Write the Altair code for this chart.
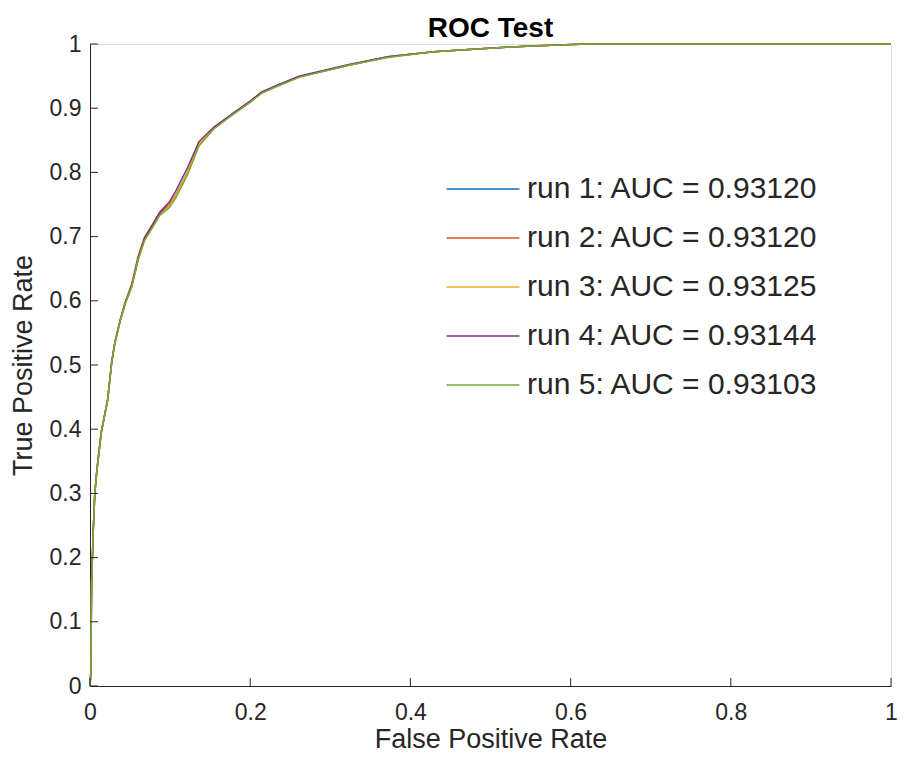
import altair as alt
import pandas as pd

# False positive rate (shared sampling) and true positive rate per run
fpr = [0, 0.001, 0.002, 0.004, 0.006, 0.009, 0.014, 0.022, 0.027, 0.031, 0.038, 0.044,
       0.052, 0.060, 0.068, 0.077, 0.087, 0.099, 0.107, 0.122, 0.136, 0.155, 0.175,
       0.200, 0.214, 0.232, 0.261, 0.323, 0.372, 0.429, 0.478, 0.550, 0.620, 1.000]

run1 = [0, 0.020, 0.160, 0.240, 0.300, 0.340, 0.394, 0.445, 0.503, 0.534, 0.570, 0.596,
        0.622, 0.664, 0.695, 0.713, 0.734, 0.749, 0.764, 0.801, 0.844, 0.869, 0.888,
        0.910, 0.924, 0.934, 0.949, 0.967, 0.980, 0.988, 0.992, 0.997, 1.000, 1.000]
run2 = [0, 0.022, 0.162, 0.242, 0.301, 0.342, 0.396, 0.446, 0.504, 0.536, 0.572, 0.598,
        0.626, 0.669, 0.699, 0.717, 0.737, 0.750, 0.764, 0.800, 0.843, 0.869, 0.889,
        0.911, 0.925, 0.934, 0.949, 0.967, 0.980, 0.988, 0.992, 0.997, 1.000, 1.000]
run3 = [0, 0.019, 0.158, 0.239, 0.299, 0.339, 0.393, 0.444, 0.502, 0.533, 0.569, 0.595,
        0.621, 0.663, 0.694, 0.712, 0.733, 0.748, 0.763, 0.801, 0.844, 0.870, 0.888,
        0.910, 0.924, 0.934, 0.949, 0.967, 0.980, 0.988, 0.992, 0.997, 1.000, 1.000]
run4 = [0, 0.021, 0.161, 0.241, 0.301, 0.341, 0.395, 0.446, 0.504, 0.535, 0.571, 0.597,
        0.623, 0.666, 0.697, 0.716, 0.738, 0.754, 0.771, 0.808, 0.848, 0.871, 0.889,
        0.911, 0.925, 0.935, 0.950, 0.968, 0.980, 0.988, 0.992, 0.997, 1.000, 1.000]
run5 = [0, 0.020, 0.159, 0.240, 0.300, 0.340, 0.394, 0.445, 0.503, 0.534, 0.570, 0.596,
        0.622, 0.664, 0.694, 0.712, 0.733, 0.745, 0.760, 0.797, 0.841, 0.868, 0.887,
        0.909, 0.923, 0.933, 0.948, 0.967, 0.979, 0.988, 0.992, 0.997, 1.000, 1.000]

labels = ["run 1: AUC = 0.93120", "run 2: AUC = 0.93120", "run 3: AUC = 0.93125",
          "run 4: AUC = 0.93144", "run 5: AUC = 0.93103"]
colors = ["#0072BD", "#D95319", "#EDB120", "#7E2F8E", "#77AC30"]
ticks = [0, 0.1, 0.2, 0.3, 0.4, 0.5, 0.6, 0.7, 0.8, 0.9, 1.0]
xticks = [0, 0.2, 0.4, 0.6, 0.8, 1.0]

rows = []
for i, (lab, tpr) in enumerate(zip(labels, [run1, run2, run3, run4, run5])):
    for j, (fx, ty) in enumerate(zip(fpr, tpr)):
        rows.append({"fpr": fx, "tpr": ty, "run": lab, "order": i, "idx": j})
df = pd.DataFrame(rows)

FONT = "Liberation Sans"
AX = "#262626"
W, H = 801, 642

xscale = alt.Scale(domain=[0, 1], nice=False)
yscale = alt.Scale(domain=[0, 1], nice=False)

lines = alt.Chart(df).mark_line(strokeWidth=1.5).encode(
    x=alt.X("fpr:Q", scale=xscale, title="False Positive Rate",
            axis=alt.Axis(values=xticks, format="~g", ticks=False, tickSize=0,
                          labelPadding=15, grid=False, domainColor=AX, labelColor=AX,
                          titleColor=AX, labelFontSize=23, titleFontSize=27,
                          titleFontWeight="normal", labelFont=FONT, titleFont=FONT,
                          titlePadding=2, labelFlush=False)),
    y=alt.Y("tpr:Q", scale=yscale, title="True Positive Rate",
            axis=alt.Axis(values=ticks, format="~g", ticks=False, tickSize=0,
                          labelPadding=9, grid=False, domainColor=AX, labelColor=AX,
                          titleColor=AX, labelFontSize=23, titleFontSize=27,
                          titleFontWeight="normal", labelFont=FONT, titleFont=FONT,
                          titlePadding=12, labelFlush=False)),
    color=alt.Color("run:N", scale=alt.Scale(domain=labels, range=colors),
                    legend=alt.Legend(title=None, orient="none", legendX=377, legendY=129,
                                      symbolType="M-2.4,0H2.4", symbolSize=924,
                                      symbolStrokeWidth=1.5, labelFontSize=30,
                                      labelFont=FONT, labelColor=AX, labelOffset=28,
                                      rowPadding=18, labelLimit=400)),
    order=alt.Order("order:Q"),
    detail="run:N",
)

ytick_df = pd.DataFrame({"v": ticks})
xtick_df = pd.DataFrame({"v": xticks})
yt = alt.Chart(ytick_df).mark_rule(color=AX, strokeWidth=1).encode(
    y=alt.Y("v:Q", scale=yscale), x=alt.value(0), x2=alt.value(8))
xt = alt.Chart(xtick_df).mark_rule(color=AX, strokeWidth=1).encode(
    x=alt.X("v:Q", scale=xscale), y=alt.value(H), y2=alt.value(H - 8))

chart = alt.layer(lines, yt, xt).properties(
    width=W, height=H,
    title=alt.TitleParams("ROC Test", font=FONT, fontSize=28, fontWeight="bold",
                          color="#000000", anchor="middle", offset=-10),
    autosize=alt.AutoSizeParams(type="none"),
    padding={"left": 82, "top": 36, "right": 8, "bottom": 67},
).configure_view(stroke=None).configure(background="white")

chart.save("out.html", embed_options={"renderer": "svg", "actions": False})
